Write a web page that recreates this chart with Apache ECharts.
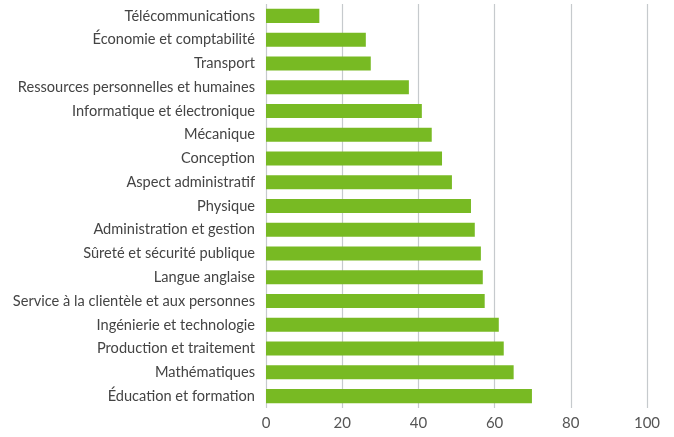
<!DOCTYPE html>
<html>
<head>
<meta charset="utf-8">
<script src="https://cdn.jsdelivr.net/npm/echarts@6/dist/echarts.min.js"></script>
<style>
  html, body { margin: 0; padding: 0; background: #fff; }
  #chart { width: 674px; height: 437px; }
</style>
</head>
<body>
<div id="chart"></div>
<script>
// catégories de haut en bas
const categories = [
  'Télécommunications',
  'Économie et comptabilité',
  'Transport',
  'Ressources personnelles et humaines',
  'Informatique et électronique',
  'Mécanique',
  'Conception',
  'Aspect administratif',
  'Physique',
  'Administration et gestion',
  'Sûreté et sécurité publique',
  'Langue anglaise',
  'Service à la clientèle et aux personnes',
  'Ingénierie et technologie',
  'Production et traitement',
  'Mathématiques',
  'Éducation et formation'
];
const values = [14, 26.2, 27.5, 37.5, 40.9, 43.5, 46.2, 48.8, 53.8, 54.8, 56.4, 56.9, 57.4, 61.1, 62.4, 65, 69.8];
const xTicks = [0, 20, 40, 60, 80, 100];

const chart = echarts.init(document.getElementById('chart'));

const option = {
    animation: false,
    grid: {
        left: 266,
        right: 27,
        top: 4,
        bottom: 29,
        containLabel: false
    },
    xAxis: {
        type: 'value',
        min: xTicks[0],
        max: xTicks[xTicks.length - 1],
        interval: 20,
        axisLine: { show: false },
        axisTick: { show: false },
        axisLabel: {
            color: '#555',
            fontFamily: 'Lato',
            fontSize: 15,
            margin: 8
        },
        splitLine: {
            lineStyle: { color: '#c6cacd', width: 1.2 }
        }
    },
    yAxis: {
        type: 'category',
        inverse: true,
        data: categories,
        axisLine: { show: false },
        axisTick: { show: false },
        axisLabel: {
            color: '#444',
            fontFamily: 'Lato',
            fontSize: 14.6,
            margin: 11
        }
    },
    series: [
        {
            type: 'bar',
            data: values,
            barCategoryGap: '41%',
            itemStyle: { color: '#78ba23' }
        }
    ]
};

chart.setOption(option);
</script>
</body>
</html>
